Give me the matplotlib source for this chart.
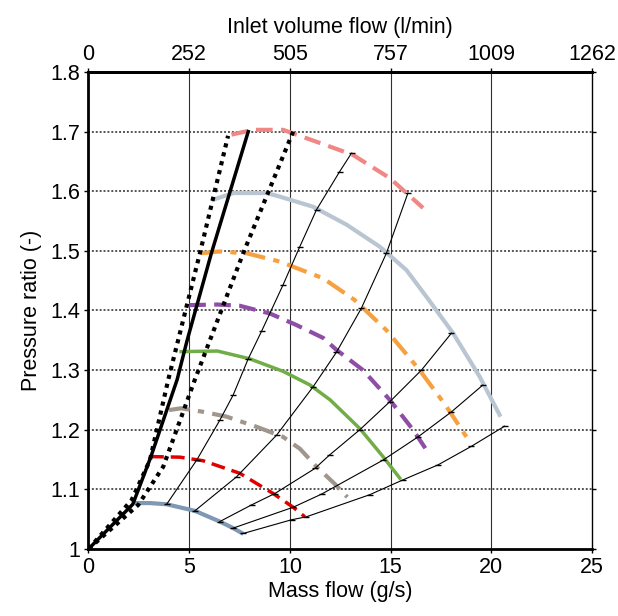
import matplotlib
matplotlib.use("Agg")
import matplotlib.pyplot as plt

plt.rcParams['font.family'] = ['Liberation Sans', 'DejaVu Sans']

# speed lines (mass flow g/s, pressure ratio)
spd1_x = [2.4, 3.05, 3.88, 5.28, 6.52, 7.18, 7.6]
spd1_y = [1.077, 1.077, 1.075, 1.064, 1.046, 1.035, 1.027]
spd2_x = [3.05, 4.54, 5.69, 7.51, 9.17, 10.16, 10.74]
spd2_y = [1.155, 1.154, 1.148, 1.127, 1.093, 1.070, 1.054]
spd3_x = [4.0, 4.6, 5.7, 6.85, 8.34, 9.66, 10.5, 11.32, 12.2, 12.85]
spd3_y = [1.233, 1.236, 1.230, 1.222, 1.205, 1.188, 1.168, 1.138, 1.110, 1.087]
spd4_x = [4.6, 6.4, 8.0, 9.66, 11.0, 12.0, 13.47, 14.62, 15.45]
spd4_y = [1.331, 1.332, 1.319, 1.298, 1.275, 1.250, 1.202, 1.155, 1.119]
spd5_x = [5.0, 6.4, 7.5, 9.0, 10.3, 11.65, 12.31, 13.63, 14.96, 16.11, 16.94]
spd5_y = [1.409, 1.410, 1.408, 1.395, 1.376, 1.354, 1.334, 1.300, 1.250, 1.200, 1.158]
spd6_x = [5.6, 6.5, 7.85, 9.5, 11.65, 13.2, 14.79, 16.44, 17.77, 18.92]
spd6_y = [1.496, 1.499, 1.496, 1.482, 1.454, 1.418, 1.367, 1.300, 1.239, 1.180]
spd7_x = [6.2, 7.2, 8.84, 9.5, 11.15, 12.81, 14.46, 15.78, 16.78, 18.1, 19.42, 20.41]
spd7_y = [1.586, 1.597, 1.597, 1.591, 1.574, 1.544, 1.507, 1.468, 1.423, 1.362, 1.289, 1.225]
spd8_x = [7.1, 8.17, 9.66, 11.32, 13.13, 14.96, 16.61]
spd8_y = [1.695, 1.703, 1.703, 1.683, 1.661, 1.622, 1.572]

# surge lines
surge_x = [0, 2.2, 3.1, 4.4, 4.89, 6.1, 7.93]
surge_y = [1.0, 1.075, 1.155, 1.284, 1.349, 1.496, 1.70]
surge_lo_x = [0, 2.14, 3.05, 3.96, 5.53, 6.93]
surge_lo_y = [1.0, 1.082, 1.149, 1.284, 1.496, 1.693]
surge_hi_x = [0, 2.47, 3.71, 5.28, 7.68, 10.16]
surge_hi_y = [1.0, 1.074, 1.138, 1.284, 1.496, 1.70]

# operating lines
opA_x = [3.88, 5.37, 6.52, 7.18, 7.93, 8.59, 9.66, 10.49, 11.32, 12.47, 13.06]
opA_y = [1.075, 1.149, 1.216, 1.258, 1.319, 1.365, 1.443, 1.507, 1.569, 1.633, 1.664]
opB_x = [5.28, 7.35, 9.34, 11.15, 12.31, 13.55, 14.79, 15.86]
opB_y = [1.064, 1.121, 1.191, 1.272, 1.33, 1.404, 1.496, 1.597]
opC_x = [6.52, 8.10, 9.25, 11.24, 11.98, 13.47, 14.96, 16.53, 18.02]
opC_y = [1.046, 1.074, 1.093, 1.135, 1.158, 1.200, 1.247, 1.300, 1.362]
opD_x = [7.18, 10.16, 11.57, 14.62, 16.36, 18.02, 19.58]
opD_y = [1.035, 1.070, 1.092, 1.149, 1.188, 1.230, 1.275]
opE_x = [7.68, 10.08, 10.82, 13.96, 15.62, 17.35, 19.0, 20.66]
opE_y = [1.026, 1.049, 1.054, 1.091, 1.116, 1.141, 1.172, 1.206]

xticks = [0, 5, 10, 15, 20, 25]
top_labels = ['0', '252', '505', '757', '1009', '1262']
yticks = [1, 1.1, 1.2, 1.3, 1.4, 1.5, 1.6, 1.7, 1.8]
fs = 15.5

fig = plt.figure(figsize=(6.18, 6.16), dpi=100)
ax = fig.add_axes([0.1432, 0.1088, 0.8148, 0.7743])

for yv in yticks[1:-1]:
    ax.axhline(yv, color='#555555', lw=1.4, ls=(0, (1, 1)), zorder=1)
for xv in xticks[1:-1]:
    ax.axvline(xv, color='#303030', lw=0.8, zorder=1)

ax.plot(opA_x, opA_y, color='black', lw=0.8, marker='_', ms=4, mew=1, zorder=3)
ax.plot(opB_x, opB_y, color='black', lw=0.8, marker='_', ms=4, mew=1, zorder=3)
ax.plot(opC_x, opC_y, color='black', lw=0.8, marker='_', ms=4, mew=1, zorder=3)
ax.plot(opD_x, opD_y, color='black', lw=0.8, marker='_', ms=4, mew=1, zorder=3)
ax.plot(opE_x, opE_y, color='black', lw=0.8, marker='_', ms=4, mew=1, zorder=3)

ax.plot(spd1_x, spd1_y, color='#7f98b3', lw=3, zorder=2)
ax.plot(spd2_x, spd2_y, color='#e00000', lw=2.5, ls=(0, (4, 2)), zorder=2)
ax.plot(spd3_x, spd3_y, color='#a0968c', lw=3, ls=(0, (5, 2, 1.5, 2)), zorder=2)
ax.plot(spd4_x, spd4_y, color='#70ad47', lw=2.5, zorder=2)
ax.plot(spd5_x, spd5_y, color='#8e4ea6', lw=3, ls=(0, (4, 2)), zorder=2)
ax.plot(spd6_x, spd6_y, color='#f7a040', lw=3, ls=(0, (5, 2, 1.5, 2)), zorder=2)
ax.plot(spd7_x, spd7_y, color='#b9c6d2', lw=3, zorder=2)
ax.plot(spd8_x, spd8_y, color='#f08784', lw=3, ls=(0, (4, 2)), zorder=2)

ax.plot(surge_x, surge_y, color='black', lw=2.5, zorder=4)
ax.plot(surge_lo_x, surge_lo_y, color='black', lw=3, ls=(0, (1, 1.2)), zorder=4)
ax.plot(surge_hi_x, surge_hi_y, color='black', lw=3, ls=(0, (1, 1.2)), zorder=4)

ax.set_xlim(0, 25)
ax.set_ylim(1, 1.8)
ax.set_xticks(xticks)
ax.set_yticks(yticks)
ax.set_yticklabels(['1', '1.1', '1.2', '1.3', '1.4', '1.5', '1.6', '1.7', '1.8'])
ax.tick_params(labelsize=fs, direction='out', length=3, width=1, right=True, pad=3)
ax.set_xlabel('Mass flow (g/s)', fontsize=fs, labelpad=2)
ax.set_ylabel('Pressure ratio (-)', fontsize=fs, labelpad=6)

ax.spines['left'].set_linewidth(2)
ax.spines['bottom'].set_linewidth(2)
ax.spines['top'].set_linewidth(2)
ax.spines['right'].set_linewidth(1)

top = ax.secondary_xaxis('top')
top.set_xticks(xticks)
top.set_xticklabels(top_labels)
top.tick_params(labelsize=fs, direction='out', length=3, width=1, pad=2)
top.spines['top'].set_linewidth(2)
top.set_xlabel('Inlet volume flow (l/min)', fontsize=fs, labelpad=8)

fig.savefig('out.png', dpi=100)
